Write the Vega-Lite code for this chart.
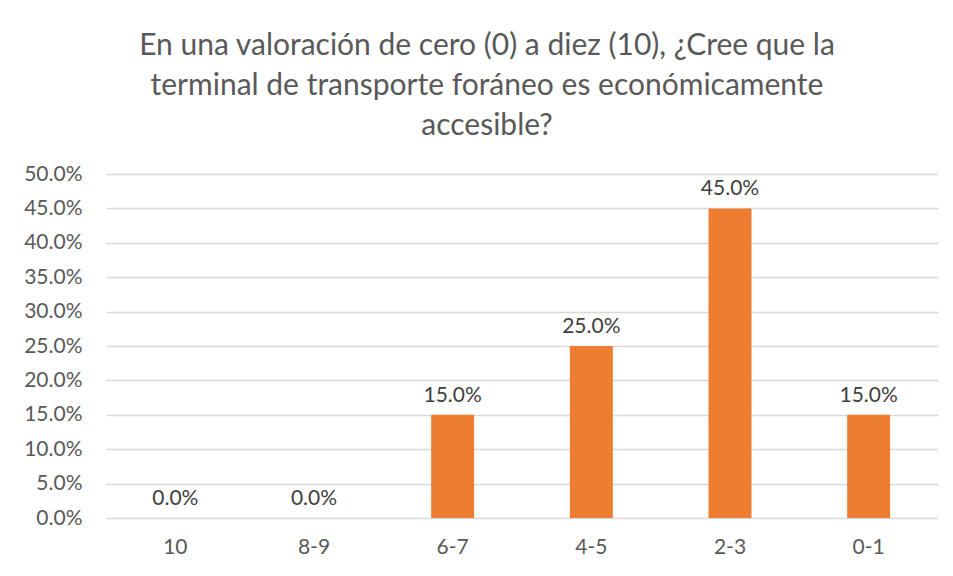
{
  "$schema": "https://vega.github.io/schema/vega-lite/v6.json",
  "width": 832,
  "height": 344,
  "autosize": {"type": "none"},
  "padding": {"left": 106, "top": 174, "right": 15, "bottom": 58},
  "background": "white",
  "title": {
    "text": ["En una valoración de cero (0) a diez (10), ¿Cree que la", "terminal de transporte foráneo es económicamente", "accesible?"],
    "font": "Lato",
    "fontSize": 30,
    "fontWeight": "normal",
    "color": "#595959",
    "lineHeight": 40,
    "anchor": "middle",
    "dx": -35,
    "offset": 22
  },
  "data": {
    "values": [
      {"cat": "10", "pct": 0.0},
      {"cat": "8-9", "pct": 0.0},
      {"cat": "6-7", "pct": 0.15},
      {"cat": "4-5", "pct": 0.25},
      {"cat": "2-3", "pct": 0.45},
      {"cat": "0-1", "pct": 0.15}
    ]
  },
  "encoding": {
    "x": {
      "field": "cat", "type": "nominal", "sort": null,
      "scale": {"paddingInner": 0.69, "paddingOuter": 0.345},
      "axis": {"title": null, "labelAngle": 0, "ticks": false, "domain": false, "grid": false,
               "labelFont": "Lato", "labelFontSize": 21, "labelColor": "#595959", "labelPadding": 18}
    },
    "y": {
      "field": "pct", "type": "quantitative",
      "scale": {"domain": [0, 0.5]},
      "axis": {"title": null, "format": ".1%", "values": [0,0.05,0.1,0.15,0.2,0.25,0.3,0.35,0.4,0.45,0.5],
               "labelOverlap": false, "ticks": false, "domain": false, "grid": true, "gridColor": "#d9d9d9", "gridWidth": 1.3,
               "labelFont": "Lato", "labelFontSize": 21, "labelColor": "#595959", "labelPadding": 24}
    }
  },
  "layer": [
    {"mark": {"type": "bar", "color": "#ED7D31"}},
    {"mark": {"type": "text", "baseline": "bottom", "dy": -9, "font": "Lato", "fontSize": 21, "color": "#404040"},
     "encoding": {"text": {"field": "pct", "type": "quantitative", "format": ".1%"}}}
  ],
  "config": {"view": {"stroke": null}}
}
